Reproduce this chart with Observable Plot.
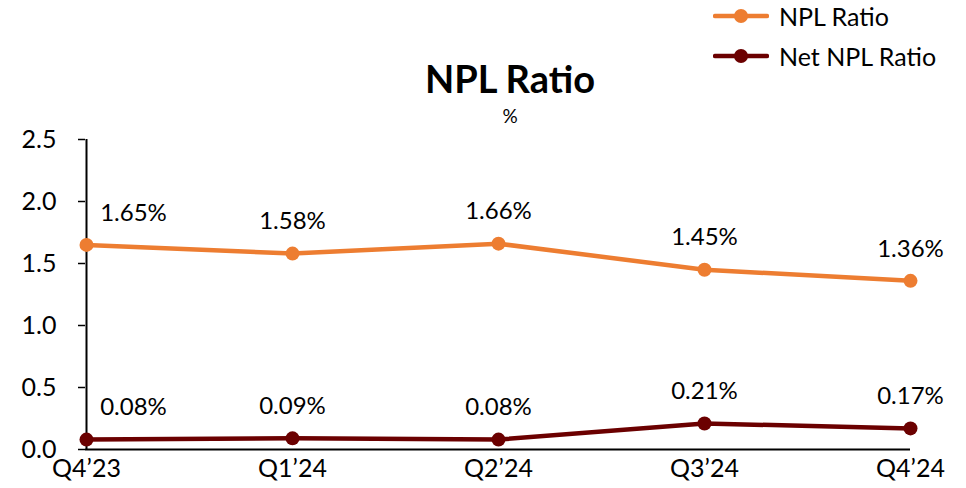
<!DOCTYPE html>
<html>
<head>
<meta charset="utf-8">
<script src="https://cdn.jsdelivr.net/npm/d3@7"></script>
<script src="https://cdn.jsdelivr.net/npm/@observablehq/plot@0.6"></script>
<style>
  html, body { margin: 0; padding: 0; background: #fff; }
  #wrap { position: relative; width: 966px; height: 488px; font-family: Lato, "Open Sans", sans-serif; }
  #title { position: absolute; left: 0; width: 1020px; top: 55px; text-align: center; font-weight: bold; font-size: 38px; color: #000; }
  #sub { position: absolute; left: 0; width: 1020px; top: 104px; text-align: center; font-size: 19px; color: #000; }
  #legend { position: absolute; left: 713px; top: 0; font-size: 25px; color: #000; }
  .li { display: flex; align-items: center; }
  .li svg { margin-right: 10px; }
</style>
</head>
<body>
<div id="wrap">
  <div id="chart"></div>
  <div id="title">NPL Ratio</div>
  <div id="sub">%</div>
  <div id="legend"></div>
</div>
<script>
const quarters = ["Q4’23", "Q1’24", "Q2’24", "Q3’24", "Q4’24"];
const nplRatio = [1.65, 1.58, 1.66, 1.45, 1.36];
const netNplRatio = [0.08, 0.09, 0.08, 0.21, 0.17];
const seriesNames = ["NPL Ratio", "Net NPL Ratio"];
const seriesColors = ["#ED7D31", "#6B0000"];
const yTicks = [0, 0.5, 1.0, 1.5, 2.0, 2.5];

const rows = [];
quarters.forEach((q, i) => {
  rows.push({q, v: nplRatio[i], s: seriesNames[0], i});
  rows.push({q, v: netNplRatio[i], s: seriesNames[1], i});
});
const fmt = d => d.v.toFixed(2) + "%";

const chart = Plot.plot({
  width: 966,
  height: 488,
  marginLeft: 85,
  marginRight: 56,
  marginTop: 139,
  marginBottom: 39,
  style: {fontFamily: "Lato, 'Open Sans', sans-serif", fontSize: "25px", color: "#000", background: "#fff"},
  x: {type: "point", domain: quarters, label: null, padding: 0},
  y: {domain: [0, 2.5], label: null},
  color: {domain: seriesNames, range: seriesColors},
  marks: [
    Plot.axisY({ticks: yTicks, tickFormat: d3.format(".1f"), tickSize: 7, tickPadding: 22, fontSize: 25, label: null, stroke: "#000", strokeWidth: 1.5}),
    Plot.axisX({tickSize: 0, tickPadding: 10, fontSize: 25, label: null}),
    Plot.ruleX([quarters[0]], {stroke: "#000", strokeWidth: 2}),
    Plot.ruleY([0], {stroke: "#000", strokeWidth: 2}),
    Plot.line(rows, {x: "q", y: "v", z: "s", stroke: "s", strokeWidth: 4.5}),
    Plot.dot(rows, {x: "q", y: "v", fill: "s", r: 7}),
    Plot.text(rows.filter(d => d.i === 0), {x: "q", y: "v", text: fmt, dx: 47, dy: -32, fontSize: 24, fill: "#000"}),
    Plot.text(rows.filter(d => d.i !== 0), {x: "q", y: "v", text: fmt, dy: -32, fontSize: 24, fill: "#000"})
  ]
});
document.getElementById("chart").appendChild(chart);

const legend = document.getElementById("legend");
seriesNames.forEach((name, k) => {
  const div = document.createElement("div");
  div.className = "li";
  div.style.height = k === 0 ? "32px" : "48px";
  div.innerHTML = `<svg width="56" height="16"><line x1="2" y1="8" x2="54" y2="8" stroke="${seriesColors[k]}" stroke-width="4.5" stroke-linecap="round"/><circle cx="28" cy="8" r="7" fill="${seriesColors[k]}"/></svg><span>${name}</span>`;
  legend.appendChild(div);
});
</script>
</body>
</html>
